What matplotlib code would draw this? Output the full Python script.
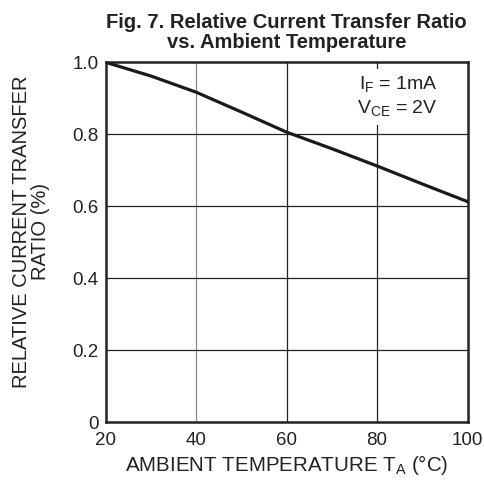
import matplotlib
matplotlib.use("Agg")
from matplotlib import pyplot as plt

plt.rcParams['font.family'] = ['Liberation Sans', 'DejaVu Sans']
plt.rcParams['mathtext.fontset'] = 'custom'
plt.rcParams['mathtext.rm'] = 'Liberation Sans'

# Values
temps = [20, 30, 40, 50, 60, 70, 80, 90, 100]
ctr = [1.0, 0.962, 0.917, 0.862, 0.806, 0.760, 0.712, 0.662, 0.613]

x_ticks = [20, 40, 60, 80, 100]
y_ticks = [0, 0.2, 0.4, 0.6, 0.8, 1.0]
y_labels = ["0", "0.2", "0.4", "0.6", "0.8", "1.0"]

fig = plt.figure(figsize=(4.85, 4.87), dpi=100)
ax = fig.add_axes([0.218, 0.133, 0.746, 0.739])

# grid lines (the 40 line is lighter in the original)
for xv in x_ticks[1:-1]:
    ax.axvline(xv, color='#888888' if xv == 40 else '#222222', lw=0.9, zorder=1)
for yv in y_ticks[1:-1]:
    ax.axhline(yv, color='#222222', lw=0.9, zorder=1)

ax.plot(temps, ctr, color='#1a1a1a', lw=2.3, zorder=3)

ax.set_xlim(20, 100)
ax.set_ylim(0, 1.0)
ax.set_xticks(x_ticks)
ax.set_yticks(y_ticks)
ax.set_yticklabels(y_labels)
ax.tick_params(axis='x', length=0, labelsize=13.5, pad=7, colors='#222222')
ax.tick_params(axis='y', length=0, labelsize=13.5, pad=5, colors='#222222')
for s in ax.spines.values():
    s.set_linewidth(1.8)
    s.set_color('#222222')

ax.set_xlabel(r"AMBIENT TEMPERATURE T$_\mathregular{A}$ ($\degree$C)", fontsize=14.8, labelpad=3, color='#222222')
ax.set_ylabel("RELATIVE CURRENT TRANSFER\nRATIO (%)", fontsize=14.5,
              color='#222222', linespacing=1.0)
ax.yaxis.set_label_coords(-0.154, 0.529)

ax.set_title("Fig. 7. Relative Current Transfer Ratio\nvs. Ambient Temperature",
             fontsize=14.5, fontweight='bold', linespacing=1.1, pad=10, color='#222222')

ax.text(0.918, 0.965, "I$_\\mathregular{F}$ = 1mA\nV$_\\mathregular{CE}$ = 2V",
        transform=ax.transAxes, ha='right', va='top', fontsize=14, color='#222222',
        linespacing=1.25,
        bbox=dict(facecolor='white', edgecolor='none', pad=4), zorder=2)

fig.savefig("out.png", dpi=100)
